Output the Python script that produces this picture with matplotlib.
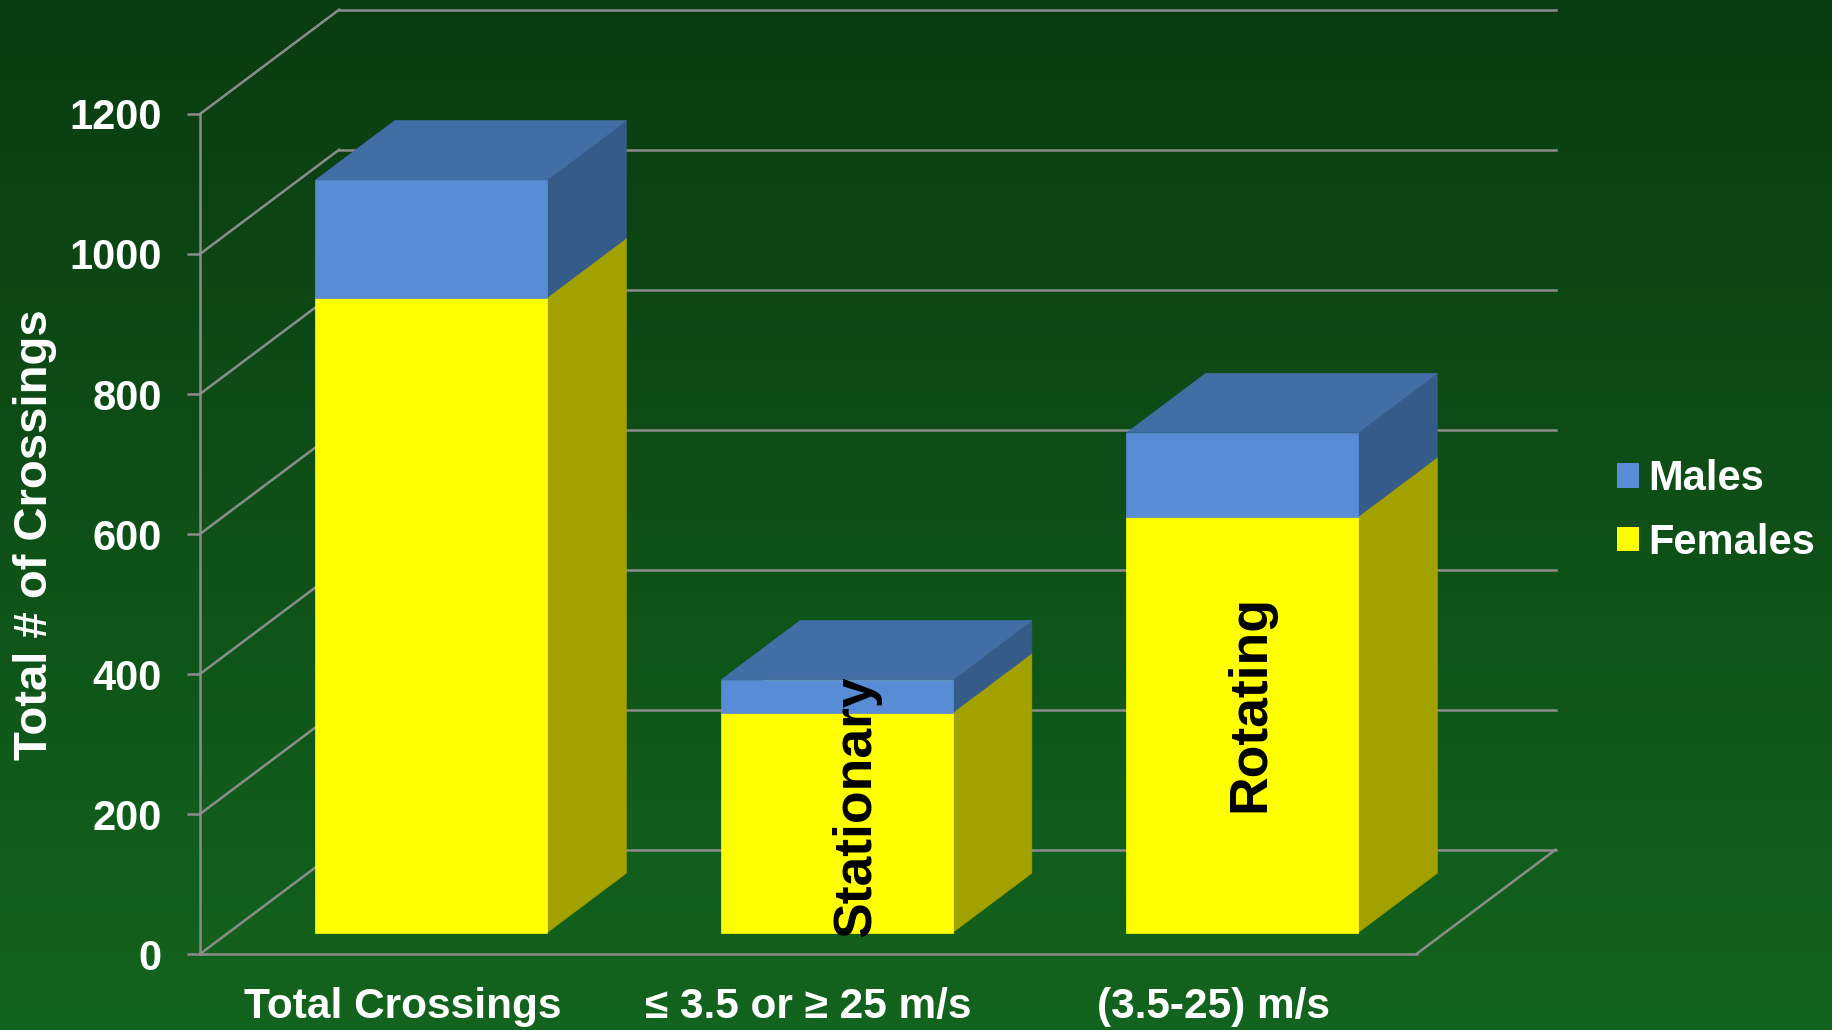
import numpy as np
import matplotlib
matplotlib.use('Agg')
import matplotlib.pyplot as plt
from matplotlib.patches import Polygon, Patch

plt.rcParams['font.family'] = ['Liberation Sans', 'DejaVu Sans']
plt.rcParams['font.weight'] = 'bold'

# data
categories = ['Total Crossings', '\u2264 3.5 or \u2265 25 m/s', '(3.5-25) m/s']
females = [907, 314, 594]
males = [168, 47, 120]
y_ticks = [0, 200, 400, 600, 800, 1000, 1200]
bar_notes = ['', 'Stationary', 'Rotating']

# oblique "3D" look
DX = 0.343      # depth shift in category units
DY = 149.0      # depth shift in value units
Z_FRONT = 0.205
Z_BACK = 0.775
BAR_W = 0.571
GRID = '#8c8c8c'

colors = {
    'Females': ('#ffff00', '#cccc00', '#a3a100'),   # front, top, side
    'Males': ('#588dd6', '#416ea4', '#355b89'),
}

fig = plt.figure(figsize=(18.32, 10.30), dpi=100)

# green gradient backdrop
bg = fig.add_axes([0, 0, 1, 1], zorder=-5)
grad = np.linspace(0, 1, 256).reshape(-1, 1)
top_c = np.array([0x0a, 0x3c, 0x11]) / 255
bot_c = np.array([0x13, 0x64, 0x1e]) / 255
img = top_c + (bot_c - top_c) * grad[:, :, None]
bg.imshow(img, aspect='auto', extent=[0, 1, 0, 1])
bg.set_axis_off()

ax = fig.add_axes([200 / 1832, 76 / 1030, 1216.5 / 1832, 840 / 1030])
ax.set_facecolor('none')
ax.set_xlim(-0.5, 2.5)
ax.set_ylim(0, 1200)

x0, x1 = -0.5, 2.5
# walls: left-wall diagonals and back-wall gridlines
for v in y_ticks:
    ax.plot([x0, x0 + DX], [v, v + DY], color=GRID, lw=1.8, clip_on=False, zorder=1)
    ax.plot([x0 + DX, x1 + DX], [v + DY, v + DY], color=GRID, lw=1.8, clip_on=False, zorder=1)
# floor right edge
ax.plot([x1, x1 + DX], [0, DY], color=GRID, lw=1.8, clip_on=False, zorder=1)


def prism(xc, b, t, face):
    front, topc, side = face
    xl = xc - BAR_W / 2
    xr = xc + BAR_W / 2
    zf, zb = Z_FRONT, Z_BACK
    fr = [(xl + zf * DX, b + zf * DY), (xr + zf * DX, b + zf * DY),
          (xr + zf * DX, t + zf * DY), (xl + zf * DX, t + zf * DY)]
    sd = [(xr + zf * DX, b + zf * DY), (xr + zb * DX, b + zb * DY),
          (xr + zb * DX, t + zb * DY), (xr + zf * DX, t + zf * DY)]
    tp = [(xl + zf * DX, t + zf * DY), (xr + zf * DX, t + zf * DY),
          (xr + zb * DX, t + zb * DY), (xl + zb * DX, t + zb * DY)]
    for pts, c in ((sd, side), (tp, topc), (fr, front)):
        ax.add_patch(Polygon(pts, closed=True, facecolor=c, edgecolor=c,
                             lw=0.5, clip_on=False, zorder=3))


for i in range(len(categories)):
    prism(i, 0, females[i], colors['Females'])
    prism(i, females[i], females[i] + males[i], colors['Males'])

# notes written on the bars
ax.text(1.12, 24, bar_notes[1], rotation=90, ha='center', va='bottom',
        fontsize=38.5, color='black', zorder=5)
ax.text(2.09, 358, bar_notes[2], rotation=90, ha='center', va='center',
        fontsize=38.5, color='black', zorder=5)

# axes: front axis line and floor front edge
for s in ('top', 'right'):
    ax.spines[s].set_visible(False)
for s in ('left', 'bottom'):
    ax.spines[s].set_color(GRID)
    ax.spines[s].set_linewidth(1.8)
    ax.spines[s].set_zorder(2)

ax.set_yticks(y_ticks)
ax.set_yticklabels([str(v) for v in y_ticks])
ax.tick_params(axis='y', length=9.4, width=1.8, color=GRID, pad=18,
               labelsize=30, labelcolor='white')
ax.set_xticks(range(len(categories)))
ax.set_xticklabels(categories)
ax.tick_params(axis='x', length=0, pad=24, labelsize=30.5, labelcolor='white')

fig.text(35 / 1832, 1 - 535 / 1030, 'Total # of Crossings', rotation=90,
         ha='center', va='center', fontsize=34, color='white')

handles = [Patch(facecolor=colors['Males'][0]), Patch(facecolor=colors['Females'][0])]
fig.legend(handles, ['Males', 'Females'], loc='center left',
           bbox_to_anchor=(1617 / 1832, 1 - 511 / 1030), frameon=False,
           fontsize=30, labelcolor='white', handlelength=0.53, handleheight=0.53,
           handletextpad=0.21, labelspacing=0.56, borderpad=0, borderaxespad=0)

fig.savefig('out.png', dpi=100)
